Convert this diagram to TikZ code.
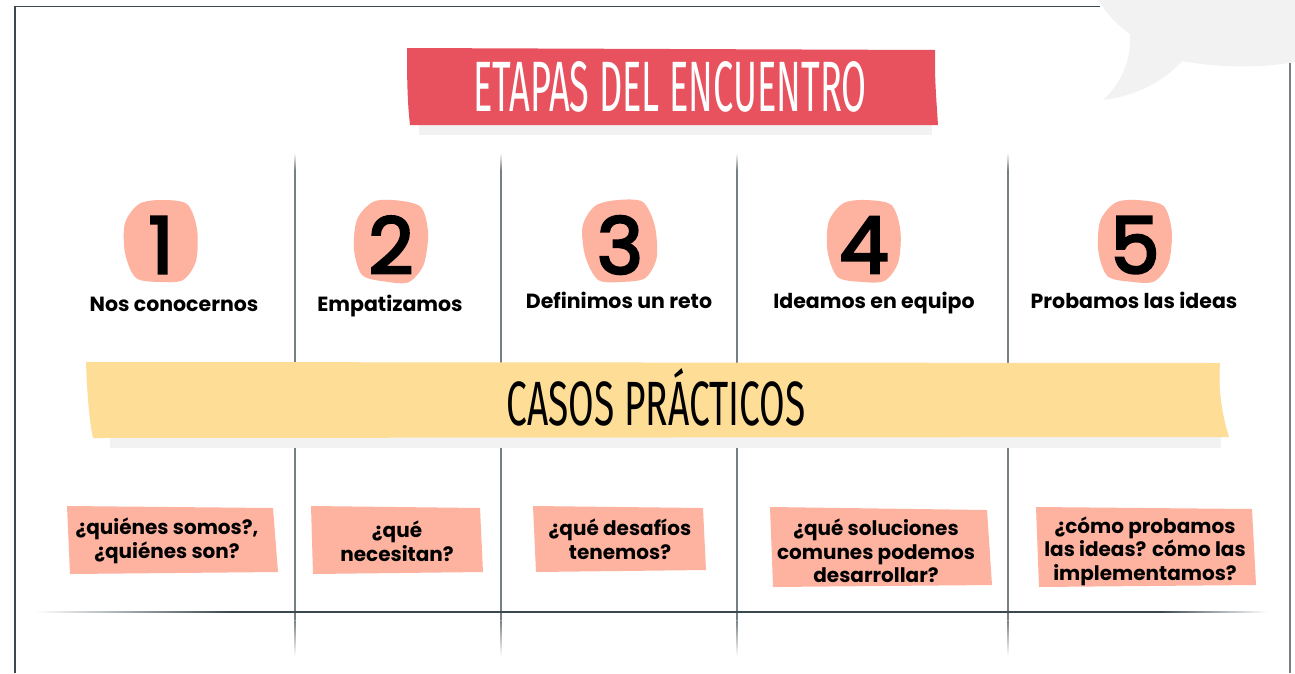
\documentclass[tikz,border=0pt]{standalone}
\usepackage{fontspec}
\usepackage{graphicx}
\setmainfont{Poppins}
\newfontfamily\bannerfont{Fira Sans}
\newfontfamily\digitfont[FakeBold=3.5]{Poppins}
\usetikzlibrary{positioning}

\definecolor{banred}{HTML}{E8515E}
\definecolor{salmon}{HTML}{FDB3A0}
\definecolor{banyellow}{HTML}{FEDD97}
\definecolor{shadowgray}{HTML}{F2F2F2}
\definecolor{framegray}{HTML}{3B4850}
\definecolor{rulegray}{HTML}{767F84}

\tikzset{
  stagelabel/.style={anchor=base,inner sep=0pt,font=\bfseries\fontsize{20.5}{24}\selectfont},
  question/.style={align=center,inner sep=0pt,font=\bfseries\fontsize{20}{23.5}\selectfont},
  digit/.style={inner sep=0pt,font=\digitfont\fontsize{78}{78}\selectfont},
}

\begin{document}
\begin{tikzpicture}[x=1pt,y=-1pt]
  \useasboundingbox[fill=white] (0,0) rectangle (1295,673);

  % Frame
  \draw[framegray,line width=1.8pt] (1100,6.5) -- (15,6.5) -- (15,673);
  \draw[rulegray,line width=1.5pt] (1290,60) -- (1290,673);

  % Speech bubble
  \fill[shadowgray] (1098,0) .. controls (1108,15) and (1118,26) .. (1130,34)
    .. controls (1132,60) and (1120,85) .. (1103,100)
    .. controls (1140,95) and (1165,80) .. (1182,61)
    .. controls (1220,68) and (1262,68) .. (1295,62) -- (1295,0) -- cycle;

  % Column rules
  \foreach \x in {295,501,737,1008} {
    \shade[top color=white,bottom color=rulegray] (\x-0.6,153) rectangle (\x+0.6,170);
    \fill[rulegray] (\x-0.6,170) rectangle (\x+0.6,620);
    \shade[top color=rulegray,bottom color=white] (\x-0.6,620) rectangle (\x+0.6,656);
  }

  % Bottom rule
  \shade[left color=white,right color=framegray] (35,611.4) rectangle (230,612.6);
  \fill[framegray] (230,611.4) rectangle (1160,612.6);
  \shade[left color=framegray,right color=white] (1160,611.4) rectangle (1267,612.6);

  % Title banner
  \fill[shadowgray] (419,120) rectangle (932,135);
  \fill[banred] (407,48) -- (935,50) .. controls (935,80) .. (938,125)
    -- (410,125) .. controls (407,100) and (407,70) .. (407,48) -- cycle;
  \node[text=white,inner sep=0pt] (title) at (670,87)
    {\resizebox{393pt}{50pt}{\bannerfont ETAPAS DEL ENCUENTRO}};

  % Stage numbers
  \foreach \cx/\num/\rot in {161/1/0,391/2/-6,620/3/5,864/4/-2,1135/5/-4} {
    \fill[salmon,shift={(\cx,241)},rotate=\rot] plot[smooth cycle] coordinates
      {(0,-41) (26,-37) (36,-12) (35,20) (22,39) (0,41) (-25,37) (-36,12) (-36,-18) (-22,-37)};
    \node[digit] (n\num) at (\cx,245) {\num};
  }

  % Stage names
  \node[stagelabel] (s1) at (174,311.5) {Nos conocernos};
  \node[stagelabel] (s2) at (390,311.5) {Empatizamos};
  \node[stagelabel] (s3) at (619,308) {Definimos un reto};
  \node[stagelabel] (s4) at (874,308) {Ideamos en equipo};
  \node[stagelabel] (s5) at (1134,308) {Probamos las ideas};

  % Case banner
  \fill[shadowgray] (110,430) rectangle (1221,448);
  \fill[banyellow] (86,362) -- (1220,363) .. controls (1218,390) and (1222,415) .. (1229,437)
    -- (93,438) .. controls (89,420) and (87,390) .. (86,362) -- cycle;
  \node[inner sep=0pt] (casos) at (656,397)
    {\resizebox{299pt}{57pt}{\bannerfont CASOS PRÁCTICOS}};

  % Question notes
  \fill[salmon] (67,506) -- (273,508) -- (278,572) -- (70,574) -- cycle;
  \fill[salmon] (311,506) -- (480,508) -- (483,572) -- (313,574) -- cycle;
  \fill[salmon] (533,506) -- (703,508) -- (706,570) -- (536,572) -- cycle;
  \fill[salmon] (770,507) -- (987,510) -- (992,585) -- (773,587) -- cycle;
  \fill[salmon] (1036,507) -- (1252,509) -- (1256,585) -- (1039,587) -- cycle;

  \node[question] (q1) at (167,541) {¿quiénes somos?,\\¿quiénes son?};
  \node[question] (q2) at (397,541) {¿qué\\necesitan?};
  \node[question] (q3) at (620,539) {¿qué desafíos\\tenemos?};
  \node[question] (q4) at (876,551) {¿qué soluciones\\comunes podemos\\desarrollar?};
  \node[question] (q5) at (1145,551) {¿cómo probamos\\las ideas? cómo las\\implementamos?};
\end{tikzpicture}
\end{document}
